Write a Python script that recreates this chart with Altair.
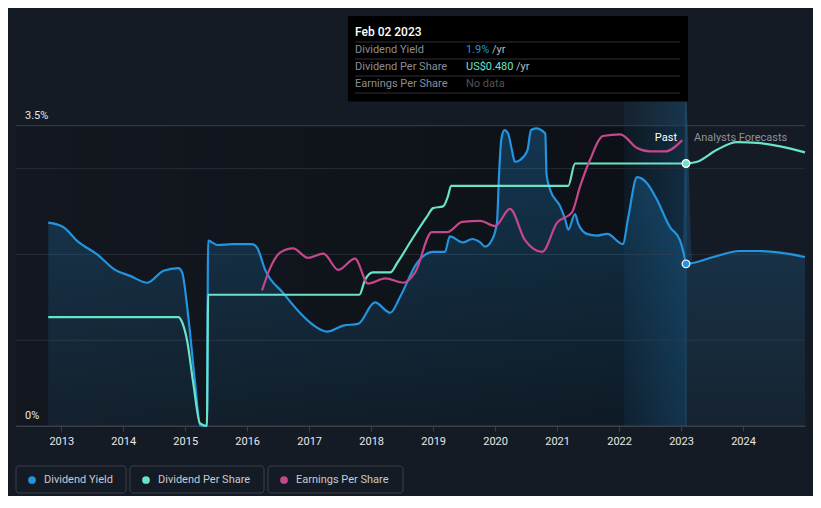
import altair as alt
import pandas as pd

W, H = 789, 326
BG = "#151b24"
BLUE = "#2394df"
TEAL = "#6be3c8"
PINK = "#c5488b"

# ---- data ----
dy_past_year = [2012.79, 2013.03, 2013.27, 2013.58, 2013.87, 2014.11, 2014.39, 2014.65, 2014.89, 2014.95,
                2015.05, 2015.16, 2015.24, 2015.35, 2015.37, 2015.52, 2015.77, 2016.08, 2016.16, 2016.29,
                2016.58, 2016.85, 2017.06, 2017.29, 2017.55, 2017.79, 2018.06, 2018.31, 2018.47, 2018.74,
                2019.00, 2019.19, 2019.27, 2019.48, 2019.63, 2019.76, 2019.84, 2019.95, 2020.03, 2020.06,
                2020.10, 2020.15, 2020.21, 2020.27, 2020.32, 2020.40, 2020.52, 2020.58, 2020.66, 2020.81,
                2020.83, 2020.89, 2021.05, 2021.13, 2021.18, 2021.29, 2021.34, 2021.48, 2021.65, 2021.81,
                2022.06, 2022.15, 2022.29, 2022.45, 2022.61, 2022.82, 2022.98, 2023.03, 2023.08]
dy_past_val = [2.37, 2.32, 2.15, 2.00, 1.82, 1.75, 1.67, 1.81, 1.84, 1.79,
               1.27, 0.50, 0.01, 0.00, 2.16, 2.11, 2.12, 2.12, 2.08, 1.82,
               1.55, 1.32, 1.18, 1.10, 1.17, 1.19, 1.44, 1.32, 1.51, 1.90,
               2.03, 2.03, 2.21, 2.14, 2.18, 2.14, 2.09, 2.17, 2.37, 2.87,
               3.34, 3.45, 3.41, 3.22, 3.08, 3.10, 3.21, 3.45, 3.47, 3.41,
               2.93, 2.75, 2.56, 2.41, 2.29, 2.47, 2.36, 2.24, 2.22, 2.24,
               2.12, 2.44, 2.90, 2.83, 2.64, 2.32, 2.17, 2.05, 1.89]
dy_fc_year = [2023.08, 2023.19, 2023.52, 2023.95, 2024.23, 2024.60, 2025.00]
dy_fc_val = [1.89, 1.90, 1.97, 2.04, 2.04, 2.02, 1.97]

dps_past_year = [2012.79, 2014.89, 2014.95, 2015.03, 2015.13, 2015.24, 2015.35, 2015.37, 2017.81, 2017.90,
                 2018.03, 2018.31, 2018.42, 2018.68, 2018.90, 2019.00, 2019.16, 2019.24, 2019.29, 2021.18,
                 2021.29, 2023.08]
dps_past_val = [1.27, 1.27, 1.21, 1.00, 0.50, 0.03, 0.00, 1.53, 1.53, 1.70,
                1.79, 1.79, 1.90, 2.20, 2.44, 2.54, 2.56, 2.68, 2.80, 2.80,
                3.06, 3.06]
dps_fc_year = [2023.08, 2023.26, 2023.58, 2023.90, 2024.23, 2024.60, 2025.00]
dps_fc_val = [3.06, 3.08, 3.22, 3.31, 3.30, 3.26, 3.19]

eps_year = [2016.24, 2016.37, 2016.53, 2016.74, 2016.98, 2017.23, 2017.47, 2017.74, 2017.95, 2018.23,
            2018.52, 2018.71, 2018.98, 2019.23, 2019.47, 2019.76, 2020.00, 2020.24, 2020.48, 2020.76,
            2021.00, 2021.24, 2021.37, 2021.53, 2021.74, 2022.02, 2022.29, 2022.50, 2022.74, 2023.02]
eps_val = [1.58, 1.84, 2.02, 2.07, 1.96, 2.01, 1.82, 1.95, 1.66, 1.72,
           1.67, 1.79, 2.26, 2.26, 2.38, 2.39, 2.33, 2.53, 2.17, 2.03,
           2.37, 2.49, 2.79, 3.10, 3.38, 3.40, 3.24, 3.20, 3.20, 3.33]

x_ticks = list(range(2013, 2025))
x_domain = [2012.27, 2025.0]
y_grid = [1, 2, 3]
y_edges = [0, 3.5]
y_labels = ["0%", "3.5%"]
now_year = 2023.08
band_start = 2022.08

tip_date = "Feb 02 2023"
tip_rows = ["Dividend Yield", "Dividend Per Share", "Earnings Per Share"]
tip_values = ["1.9%", "US$0.480", "No data"]
legend_labels = ["Dividend Yield", "Dividend Per Share", "Earnings Per Share"]

# ---- tables ----
def series(years, vals, seg):
    return pd.DataFrame({"year": years, "val": vals, "seg": seg})

dy = pd.concat([series(dy_past_year, dy_past_val, "past"), series(dy_fc_year, dy_fc_val, "fc")])
dps = pd.concat([series(dps_past_year, dps_past_val, "past"), series(dps_fc_year, dps_fc_val, "fc")])
eps = series(eps_year, eps_val, "past")
dots = pd.DataFrame({"year": [now_year, now_year], "val": [dy_past_val[-1], dps_past_val[-1]],
                     "c": [BLUE, TEAL]})

xs = alt.Scale(domain=x_domain, nice=False, zero=False)
ys = alt.Scale(domain=[0, 3.8], nice=False, zero=False)
xaxis = alt.Axis(values=x_ticks, format="d", title=None, grid=False, domainColor="#3a3f48",
                 tickColor="#3a3f48", tickSize=5, labelColor="#e6e8eb", labelFont="Roboto",
                 labelFontSize=11, labelPadding=4, labelFlush=False)
X = alt.X("year:Q", scale=xs, axis=xaxis)
Y = alt.Y("val:Q", scale=ys, axis=None)

one = alt.Data(values=[{"k": 1}])

past_bg = alt.Chart(pd.DataFrame({"year": [x_domain[0]], "x2": [now_year], "val": [0], "y2": [y_edges[1]]})).mark_rect(
    color=alt.Gradient(gradient="linear", x1=0, x2=1, y1=0, y2=0,
                       stops=[alt.GradientStop(color="#131820", offset=0),
                              alt.GradientStop(color="#0c1016", offset=1)])
).encode(x=X, x2="x2", y=Y, y2="y2")

band = alt.Chart(pd.DataFrame({"year": [band_start], "x2": [now_year]})).mark_rect(
    color=alt.Gradient(gradient="linear", x1=0, x2=1, y1=0, y2=0,
                       stops=[alt.GradientStop(color="rgba(35,148,223,0.06)", offset=0),
                              alt.GradientStop(color="rgba(35,148,223,0.22)", offset=1)])
).encode(x=X, x2="x2", y=alt.value(0), y2=alt.value(H))

grid = alt.Chart(pd.DataFrame({"val": y_grid})).mark_rule(color="#262c35", strokeWidth=1).encode(y=Y)
edges = alt.Chart(pd.DataFrame({"val": y_edges})).mark_rule(color="#3a3f48", strokeWidth=1).encode(y=Y)
ylab = alt.Chart(pd.DataFrame({"val": y_edges, "t": y_labels})).mark_text(
    align="left", baseline="bottom", dy=-5, font="Roboto", fontSize=11, color="#e6e8eb"
).encode(x=alt.value(9), y=Y, text="t:N")

area = alt.Chart(dy).mark_area(
    interpolate="monotone",
    color=alt.Gradient(gradient="linear", x1=0, x2=0, y1=0, y2=1,
                       stops=[alt.GradientStop(color="rgba(35,148,223,0.28)", offset=0),
                              alt.GradientStop(color="rgba(35,148,223,0.07)", offset=1)])
).encode(x=X, y=Y, detail="seg:N")

dy_line = alt.Chart(dy).mark_line(interpolate="monotone", color=BLUE, strokeWidth=2.2).encode(
    x=X, y=Y, detail="seg:N")
dps_line = alt.Chart(dps).mark_line(interpolate="monotone", color=TEAL, strokeWidth=2.2).encode(
    x=X, y=Y, detail="seg:N")
eps_line = alt.Chart(eps).mark_line(interpolate="monotone", color=PINK, strokeWidth=2.2).encode(
    x=X, y=Y)

now_rule = alt.Chart(pd.DataFrame({"year": [now_year]})).mark_rule(color="#1f4d6e", strokeWidth=1).encode(
    x=X, y=alt.value(0), y2=alt.value(H))

dot = alt.Chart(dots).mark_point(filled=True, size=60, stroke="white", strokeWidth=1.2, opacity=1).encode(
    x=X, y=Y, fill=alt.Fill("c:N", scale=None))

past_txt = alt.Chart(one).mark_text(text="Past", align="right", baseline="middle", font="Roboto",
                                    fontSize=11, color="#ffffff").encode(x=alt.value(661), y=alt.value(38))
fc_txt = alt.Chart(one).mark_text(text="Analysts Forecasts", align="left", baseline="middle", font="Roboto",
                                  fontSize=11, color="#8d929b").encode(x=alt.value(678), y=alt.value(38))

# tooltip box
layers_tip = [
    alt.Chart(one).mark_rect(color="#000000").encode(
        x=alt.value(332), x2=alt.value(672), y=alt.value(-84), y2=alt.value(1.5)),
    alt.Chart(one).mark_text(text=tip_date, align="left", baseline="middle", font="Roboto",
                             fontSize=12, fontWeight=500, color="#ffffff").encode(
        x=alt.value(339), y=alt.value(-68)),
]
for yv in [-58, -41, -24, -7]:
    layers_tip.append(alt.Chart(one).mark_rule(color="#2e3036", strokeWidth=1).encode(
        x=alt.value(339), x2=alt.value(664), y=alt.value(yv)))
row_y = [-50, -33, -16]
val_colors = [BLUE, TEAL, "#4f535a"]
suffix_x = [476, 500, None]
for i in range(3):
    layers_tip.append(alt.Chart(one).mark_text(text=tip_rows[i], align="left", baseline="middle",
                                               font="Roboto", fontSize=11, color="#8a8e95").encode(
        x=alt.value(339), y=alt.value(row_y[i])))
    layers_tip.append(alt.Chart(one).mark_text(text=tip_values[i], align="left", baseline="middle",
                                               font="Roboto", fontSize=11, color=val_colors[i]).encode(
        x=alt.value(450), y=alt.value(row_y[i])))
    if suffix_x[i] is not None:
        layers_tip.append(alt.Chart(one).mark_text(text="/yr", align="left", baseline="middle",
                                                   font="Roboto", fontSize=11, color="#b8bcc2").encode(
            x=alt.value(suffix_x[i]), y=alt.value(row_y[i])))

# legend boxes
leg_layers = []
leg_box = [(0, 110), (114, 248), (252, 387)]
leg_colors = [BLUE, TEAL, PINK]
for i in range(3):
    x0, x1 = leg_box[i]
    leg_layers.append(alt.Chart(one).mark_rect(fillOpacity=0, stroke="#3b4049", strokeWidth=1,
                                               cornerRadius=3).encode(
        x=alt.value(x0), x2=alt.value(x1), y=alt.value(366), y2=alt.value(393)))
    leg_layers.append(alt.Chart(one).mark_point(filled=True, size=60, color=leg_colors[i], opacity=1).encode(
        x=alt.value(x0 + 16), y=alt.value(380)))
    leg_layers.append(alt.Chart(one).mark_text(text=legend_labels[i], align="left", baseline="middle",
                                               font="Roboto", fontSize=11, color="#c6cad0").encode(
        x=alt.value(x0 + 28), y=alt.value(380)))

chart = alt.layer(
    past_bg, band, grid, edges, ylab, area, dy_line, dps_line, eps_line, now_rule, dot,
    past_txt, fc_txt, *layers_tip, *leg_layers
).properties(
    width=W, height=H, background=BG,
    padding={"left": 8, "top": 92, "right": 8, "bottom": 70},
    autosize=alt.AutoSizeParams(type="none"),
).configure_view(stroke=None)

chart.save("out.html", embed_options={"renderer": "svg", "actions": False})
